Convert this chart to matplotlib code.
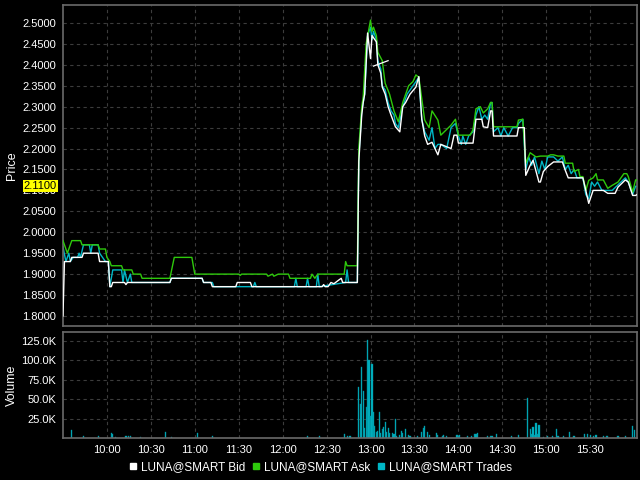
import matplotlib.pyplot as plt

# Données (heure, prix)
bid_t = ["9:30", "9:31", "9:35", "9:36", "9:43", "9:44", "9:54", "9:55", "10:01", "10:02",
         "10:03", "10:04", "10:12", "10:13", "10:14", "10:43", "10:44", "11:05", "11:06", "11:11",
         "11:12", "11:28", "11:29", "11:38", "11:39", "12:27", "12:28", "12:29", "12:31", "12:33",
         "12:35", "12:38", "12:40", "12:41", "12:51", "12:52", "12:54", "12:55", "12:56", "12:58",
         "13:00", "13:01", "13:04", "13:05", "13:07", "13:08", "13:10", "13:12", "13:14", "13:17",
         "13:20", "13:22", "13:24", "13:27", "13:31", "13:33", "13:35", "13:37", "13:39", "13:42",
         "13:46", "13:48", "13:55", "13:57", "13:59", "14:00", "14:10", "14:12", "14:16", "14:17",
         "14:20", "14:22", "14:23", "14:24", "14:40", "14:41", "14:45", "14:46", "14:49", "14:51",
         "14:55", "14:56", "14:58", "15:01", "15:05", "15:11", "15:13", "15:15", "15:25", "15:27",
         "15:29", "15:32", "15:39", "15:42", "15:47", "15:49", "15:54", "15:56", "15:59", "16:01",
         "16:02"]
bid_p = [1.80, 1.93, 1.93, 1.94, 1.94, 1.95, 1.95, 1.93, 1.93, 1.87,
         1.87, 1.88, 1.88, 1.875, 1.88, 1.88, 1.89, 1.89, 1.88, 1.88,
         1.87, 1.87, 1.88, 1.88, 1.87, 1.87, 1.875, 1.87, 1.87, 1.88,
         1.877, 1.885, 1.89, 1.88, 1.88, 2.17, 2.28, 2.31, 2.33, 2.476,
         2.415, 2.47, 2.455, 2.40, 2.38, 2.347, 2.33, 2.30, 2.28, 2.252,
         2.24, 2.30, 2.31, 2.33, 2.347, 2.372, 2.27, 2.23, 2.21, 2.215,
         2.185, 2.21, 2.20, 2.232, 2.232, 2.213, 2.213, 2.27, 2.27, 2.252,
         2.25, 2.29, 2.29, 2.23, 2.23, 2.25, 2.25, 2.136, 2.16, 2.172,
         2.12, 2.12, 2.145, 2.157, 2.168, 2.168, 2.148, 2.13, 2.13, 2.10,
         2.069, 2.10, 2.10, 2.093, 2.093, 2.108, 2.125, 2.12, 2.088, 2.088,
         2.09]

ask_t = ["9:30", "9:33", "9:36", "9:42", "9:43", "9:54", "9:55", "9:59", "10:00", "10:02",
         "10:03", "10:10", "10:11", "10:17", "10:18", "10:23", "10:24", "10:43", "10:46", "10:58",
         "11:00", "11:30", "11:31", "11:32", "11:49", "11:50", "11:53", "11:54", "11:57", "11:58",
         "12:04", "12:05", "12:19", "12:20", "12:22", "12:24", "12:42", "12:43", "12:44", "12:51",
         "12:52", "12:54", "12:55", "12:57", "13:00", "13:01", "13:02", "13:04", "13:05", "13:08",
         "13:10", "13:13", "13:16", "13:19", "13:22", "13:26", "13:29", "13:31", "13:33", "13:37",
         "13:40", "13:42", "13:46", "13:48", "13:55", "13:58", "14:00", "14:08", "14:10", "14:12",
         "14:15", "14:17", "14:20", "14:22", "14:23", "14:24", "14:40", "14:41", "14:44", "14:46",
         "14:49", "14:53", "14:56", "15:01", "15:03", "15:05", "15:08", "15:12", "15:13", "15:18",
         "15:19", "15:22", "15:23", "15:25", "15:27", "15:29", "15:32", "15:34", "15:35", "15:39",
         "15:42", "15:45", "15:49", "15:53", "15:55", "15:56", "15:59", "16:01", "16:02"]
ask_p = [1.98, 1.95, 1.98, 1.98, 1.97, 1.97, 1.96, 1.96, 1.94, 1.93,
         1.92, 1.92, 1.91, 1.91, 1.90, 1.90, 1.89, 1.89, 1.94, 1.94,
         1.90, 1.90, 1.897, 1.90, 1.90, 1.895, 1.90, 1.895, 1.90, 1.90,
         1.90, 1.89, 1.89, 1.90, 1.89, 1.90, 1.90, 1.93, 1.92, 1.92,
         2.20, 2.30, 2.324, 2.45, 2.507, 2.48, 2.49, 2.47, 2.43, 2.41,
         2.356, 2.33, 2.29, 2.264, 2.31, 2.35, 2.36, 2.376, 2.37, 2.268,
         2.25, 2.29, 2.268, 2.232, 2.256, 2.27, 2.232, 2.232, 2.245, 2.295,
         2.30, 2.285, 2.295, 2.31, 2.31, 2.252, 2.252, 2.268, 2.27, 2.165,
         2.19, 2.18, 2.182, 2.182, 2.185, 2.185, 2.182, 2.182, 2.165, 2.165,
         2.145, 2.15, 2.133, 2.133, 2.10, 2.124, 2.13, 2.14, 2.125, 2.125,
         2.105, 2.112, 2.12, 2.14, 2.14, 2.133, 2.096, 2.125, 2.125]

trades_t = ["9:30", "9:32", "9:34", "9:35", "9:37", "9:40", "9:41", "9:42", "9:44", "9:48",
            "9:49", "9:50", "9:54", "9:55", "9:59", "10:01", "10:02", "10:04", "10:10", "10:11",
            "10:12", "10:14", "10:16", "10:17", "10:43", "10:44", "11:05", "11:06", "11:12", "11:13",
            "11:39", "11:40", "11:41", "11:42", "12:08", "12:09", "12:10", "12:16", "12:17", "12:18",
            "12:23", "12:24", "12:25", "12:43", "12:44", "12:45", "12:51",
            "12:52", "12:54", "12:56", "12:58", "13:00", "13:01", "13:02", "13:04", "13:05",
            "13:07", "13:08", "13:10", "13:12", "13:14", "13:16", "13:17", "13:19", "13:22", "13:25",
            "13:27", "13:29", "13:31", "13:33", "13:35", "13:37", "13:40", "13:42", "13:44", "13:46",
            "13:48", "13:52", "13:55", "13:58", "14:00", "14:02", "14:03", "14:05", "14:07", "14:10",
            "14:12", "14:14", "14:16", "14:18", "14:20", "14:22", "14:23", "14:24", "14:27", "14:29",
            "14:31", "14:34", "14:37", "14:40", "14:41", "14:44", "14:46", "14:48", "14:50", "14:52",
            "14:55", "14:57", "14:59", "15:01", "15:05", "15:08", "15:11", "15:13", "15:15", "15:17",
            "15:19", "15:21", "15:25", "15:27", "15:29", "15:31", "15:33", "15:35", "15:38", "15:42",
            "15:45", "15:48", "15:51", "15:54", "15:56", "15:59", "16:01", "16:02"]
trades_p = [1.965, 1.93, 1.95, 1.93, 1.94, 1.94, 1.95, 1.94, 1.97, 1.97,
            1.95, 1.97, 1.97, 1.95, 1.93, 1.93, 1.87, 1.91, 1.91, 1.88,
            1.91, 1.88, 1.90, 1.88, 1.88, 1.89, 1.89, 1.88, 1.88, 1.87,
            1.87, 1.87, 1.88, 1.87, 1.87, 1.89, 1.87, 1.87, 1.89, 1.87,
            1.87, 1.90, 1.87, 1.88, 1.91, 1.88, 1.88,
            2.18, 2.29, 2.33, 2.47, 2.49, 2.46, 2.48, 2.46, 2.41,
            2.39, 2.35, 2.34, 2.31, 2.29, 2.28, 2.26, 2.25, 2.30, 2.33,
            2.34, 2.35, 2.36, 2.37, 2.27, 2.24, 2.22, 2.25, 2.20, 2.21,
            2.21, 2.20, 2.25, 2.26, 2.23, 2.21, 2.23, 2.21, 2.23, 2.24,
            2.28, 2.30, 2.27, 2.28, 2.27, 2.31, 2.31, 2.24, 2.25, 2.23,
            2.25, 2.23, 2.25, 2.25, 2.26, 2.27, 2.15, 2.18, 2.16, 2.18,
            2.14, 2.17, 2.15, 2.18, 2.18, 2.17, 2.18, 2.15, 2.16, 2.14,
            2.15, 2.13, 2.13, 2.09, 2.08, 2.12, 2.11, 2.12, 2.10, 2.10,
            2.10, 2.11, 2.12, 2.13, 2.12, 2.09, 2.11, 2.11]

# petite ligne tracée à la main sur le graphique
trait_t = ["13:02", "13:12"]
trait_p = [2.397, 2.41]

dernier_prix = 2.11

# Volumes (heure, volume)
vol_t = ["9:36", "9:44", "9:54", "10:03", "10:04", "10:06", "10:13", "10:15", "10:16", "10:23",
         "10:40", "10:44", "11:02", "11:12", "12:17", "12:25", "12:42", "12:44", "12:46",
         "12:52", "12:53", "12:54", "12:55", "12:56", "12:57", "12:58", "12:59", "13:00", "13:01",
         "13:02", "13:03", "13:04", "13:05", "13:06", "13:07", "13:08", "13:09", "13:10", "13:11",
         "13:12", "13:13", "13:15", "13:16", "13:17", "13:18", "13:20", "13:21", "13:22", "13:24",
         "13:26", "13:27", "13:32", "13:35", "13:36", "13:37", "13:39", "13:40", "13:45", "13:46",
         "13:49", "13:50", "13:52", "13:59", "14:00", "14:01", "14:06", "14:09", "14:11", "14:12",
         "14:13", "14:20", "14:22", "14:23", "14:26", "14:36", "14:41", "14:47", "14:49", "14:50",
         "14:51", "14:52", "14:53", "14:54", "14:55", "14:58", "15:01", "15:04", "15:07", "15:08",
         "15:12", "15:16", "15:19", "15:26", "15:28", "15:30", "15:32", "15:34", "15:39", "15:41",
         "15:42", "15:49", "15:54", "15:59", "16:00"]
vol_v = [10000, 2000, 2000, 6000, 5000, 1000, 2500, 3000, 2000, 1000,
         8000, 1000, 7000, 2000, 2000, 2000, 5000, 3000, 3000,
         66000, 44000, 92000, 60000, 13000, 40000, 126000, 100000, 28000, 95000,
         34000, 16000, 8000, 9000, 34000, 7000, 12000, 14000, 20000, 8000,
         13000, 7000, 6000, 5000, 25000, 3000, 4000, 9000, 6000, 11000,
         4000, 3000, 3000, 8000, 13000, 15000, 8000, 4000, 6000, 4000,
         2000, 4000, 2000, 4000, 3000, 4000, 2000, 2000, 5000, 5000,
         7000, 3000, 3000, 3000, 5000, 2000, 4000, 51000, 12000, 5000,
         14000, 4000, 19000, 5000, 17000, 1000, 2000, 3000, 11000, 2000,
         2000, 8000, 2000, 5000, 5000, 4000, 2000, 4000, 2000, 3000,
         2000, 3000, 3000, 16000, 10000]


def minutes(h):
    hh, mm = h.split(":")
    return int(hh) * 60 + int(mm)


def conv(liste):
    return [minutes(h) for h in liste]


fond = "#000000"
bord = "#6a6a6a"
grille = "#3c3c3c"
c_bid = "#ffffff"
c_ask = "#2ec90c"
c_trades = "#00b7c6"

plt.rcParams["font.family"] = ["Liberation Sans", "DejaVu Sans"]

fig = plt.figure(figsize=(6.4, 4.8), dpi=100, facecolor=fond)
ax = fig.add_axes([0.0984, 0.3208, 0.897, 0.6688], facecolor=fond)
axv = fig.add_axes([0.0984, 0.0875, 0.897, 0.2208], facecolor=fond, sharex=ax)

# Prix
ax.plot(conv(trades_t), trades_p, color=c_trades, lw=1.0, zorder=2)
ax.plot(conv(ask_t), ask_p, color=c_ask, lw=1.0, zorder=3)
ax.plot(conv(bid_t), bid_p, color=c_bid, lw=1.0, zorder=4)
ax.plot(conv(trait_t), trait_p, color=c_bid, lw=0.9, zorder=5)

# Volume
axv.bar(conv(vol_t), vol_v, width=0.8, color=c_trades, edgecolor="#008a96", linewidth=0.3)

ax.set_xlim(minutes("9:30"), minutes("16:02"))
ax.set_ylim(1.776, 2.543)
axv.set_ylim(0, 136500)

prix_ticks = [1.80 + 0.05 * i for i in range(15)]
ax.set_yticks(prix_ticks)
ax.set_yticklabels([f"{p:.4f}" for p in prix_ticks])
vol_ticks = [25000, 50000, 75000, 100000, 125000]
axv.set_yticks(vol_ticks)
axv.set_yticklabels([f"{v / 1000:.1f}K" for v in vol_ticks])

heures = ["10:00", "10:30", "11:00", "11:30", "12:00", "12:30", "13:00",
          "13:30", "14:00", "14:30", "15:00", "15:30"]
axv.set_xticks(conv(heures))
axv.set_xticklabels(heures)
ax.tick_params(axis="x", labelbottom=False)

for a in (ax, axv):
    a.grid(True, color=grille, linestyle=(0, (3, 3)), linewidth=0.8)
    a.set_axisbelow(True)
    for s in a.spines.values():
        s.set_color(bord)
        s.set_linewidth(1.2)
    a.tick_params(colors="white", labelsize=8, length=0, pad=5)

ax.set_ylabel("Price", color="white", fontsize=9)
axv.set_ylabel("Volume", color="white", fontsize=9)
ax.yaxis.set_label_coords(-0.078, 0.5)
axv.yaxis.set_label_coords(-0.078, 0.5)

# étiquette du dernier prix (recouvre en partie 2.1000, comme l'original)
ax.text(-0.0105, dernier_prix, f"{dernier_prix:.4f}", transform=ax.get_yaxis_transform(),
        ha="right", va="center", fontsize=8, color="black", zorder=10, clip_on=False,
        bbox=dict(boxstyle="square,pad=0.1", facecolor="#ffff00", edgecolor="none"))

# Légende
noms = ["LUNA@SMART Bid", "LUNA@SMART Ask", "LUNA@SMART Trades"]
couleurs = [c_bid, c_ask, c_trades]
poignees = [plt.Line2D([], [], marker="s", linestyle="none", markersize=4,
                       color=c) for c in couleurs]
leg = fig.legend(poignees, noms, loc="center", bbox_to_anchor=(0.5, 0.027), ncol=3,
                 frameon=False, fontsize=8.5, handletextpad=0.3, columnspacing=0.5,
                 handlelength=0.8, labelcolor="white")

fig.savefig("out.png", dpi=100, facecolor=fond)
